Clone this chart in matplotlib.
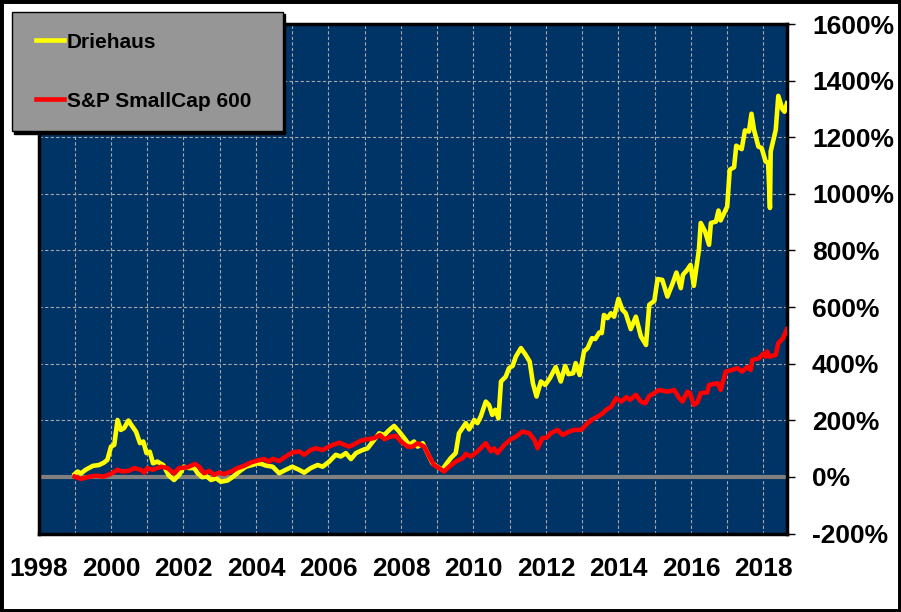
import matplotlib
matplotlib.use('Agg')
import matplotlib.pyplot as plt
from matplotlib.patches import Rectangle
from matplotlib.lines import Line2D
from matplotlib.legend_handler import HandlerLine2D

plt.rcParams['font.family'] = ['Liberation Sans', 'DejaVu Sans']
plt.rcParams['font.weight'] = 'bold'

# ---- data (cumulative return, %) ----
drie_dates = [1999.0, 1999.08, 1999.17, 1999.3, 1999.5, 1999.67, 1999.8, 1999.9, 2000.0, 2000.09,
              2000.18, 2000.27, 2000.36, 2000.48, 2000.59, 2000.69, 2000.8, 2000.89, 2000.98, 2001.07,
              2001.16, 2001.28, 2001.44, 2001.6, 2001.74, 2001.88, 2002.01, 2002.16, 2002.3, 2002.39,
              2002.52, 2002.64, 2002.76, 2002.9, 2003.03, 2003.21, 2003.35, 2003.54, 2003.72, 2003.9,
              2004.04, 2004.17, 2004.27, 2004.46, 2004.64, 2004.82, 2005.0, 2005.19, 2005.33, 2005.51,
              2005.7, 2005.84, 2006.02, 2006.2, 2006.34, 2006.48, 2006.62, 2006.76, 2006.94, 2007.08,
              2007.26, 2007.4, 2007.54, 2007.68, 2007.81, 2007.95, 2008.09, 2008.23, 2008.36, 2008.46,
              2008.6, 2008.73, 2008.87, 2009.0, 2009.14, 2009.23, 2009.37, 2009.51, 2009.6, 2009.79,
              2009.88, 2010.02, 2010.11, 2010.2, 2010.34, 2010.43, 2010.52, 2010.6, 2010.69, 2010.76,
              2010.89, 2010.98, 2011.08, 2011.17, 2011.31, 2011.44, 2011.55, 2011.64, 2011.74, 2011.86,
              2011.98, 2012.11, 2012.27, 2012.41, 2012.53, 2012.62, 2012.75, 2012.82, 2012.93, 2013.05,
              2013.15, 2013.27, 2013.36, 2013.47, 2013.54, 2013.6, 2013.7, 2013.79, 2013.88, 2014.0,
              2014.11, 2014.2, 2014.34, 2014.48, 2014.62, 2014.76, 2014.85, 2014.99, 2015.08, 2015.21,
              2015.35, 2015.49, 2015.6, 2015.72, 2015.78, 2015.9, 2015.99, 2016.08, 2016.22, 2016.27,
              2016.39, 2016.5, 2016.55, 2016.69, 2016.76, 2016.82, 2017.0, 2017.07, 2017.19, 2017.25,
              2017.4, 2017.49, 2017.6, 2017.67, 2017.74, 2017.86, 2017.95, 2018.06, 2018.13, 2018.18,
              2018.2, 2018.34, 2018.41, 2018.52, 2018.58, 2018.65]
drie_vals = [10, 19, 12, 25, 39, 42, 50, 60, 107, 113,
             201, 166, 172, 199, 178, 160, 119, 125, 84, 89,
             48, 54, 42, 4, -11, 7, 36, 31, 31, 13,
             -1, 2, -11, -5, -17, -13, -1, 19, 36, 42,
             48, 45, 40, 36, 13, 25, 36, 25, 15, 31,
             42, 36, 54, 78, 72, 84, 63, 84, 95, 101,
             131, 154, 148, 166, 180, 160, 137, 113, 125, 107,
             119, 84, 48, 36, 25, 42, 66, 84, 154, 190,
             168, 201, 190, 213, 266, 254, 219, 237, 207, 337,
             354, 384, 392, 425, 455, 431, 408, 331, 284, 337,
             325, 349, 388, 337, 392, 363, 366, 402, 360, 443,
             455, 490, 487, 510, 508, 572, 561, 578, 566, 629,
             590, 578, 522, 566, 496, 466, 608, 622, 699, 696,
             637, 682, 722, 667, 714, 732, 749, 675, 802, 897,
             867, 820, 897, 902, 941, 906, 955, 1085, 1094, 1170,
             1158, 1224, 1220, 1283, 1226, 1167, 1162, 1114, 1109, 950,
             1150, 1226, 1346, 1300, 1290, 1320]

sp_dates = [1999.0, 1999.17, 1999.35, 1999.58, 1999.8, 2000.0, 2000.18, 2000.32, 2000.5, 2000.64,
            2000.82, 2000.92, 2001.0, 2001.15, 2001.38, 2001.56, 2001.74, 2001.88, 2002.11, 2002.32,
            2002.43, 2002.57, 2002.71, 2002.85, 2002.98, 2003.12, 2003.31, 2003.49, 2003.67, 2003.86,
            2004.04, 2004.23, 2004.36, 2004.46, 2004.64, 2004.82, 2005.0, 2005.19, 2005.33, 2005.51,
            2005.65, 2005.84, 2006.06, 2006.3, 2006.44, 2006.57, 2006.71, 2006.89, 2007.08, 2007.26,
            2007.42, 2007.54, 2007.72, 2007.86, 2008.0, 2008.18, 2008.32, 2008.46, 2008.64, 2008.78,
            2008.91, 2009.05, 2009.19, 2009.33, 2009.51, 2009.7, 2009.79, 2009.93, 2010.11, 2010.34,
            2010.48, 2010.57, 2010.66, 2010.85, 2011.03, 2011.17, 2011.35, 2011.54, 2011.68, 2011.77,
            2011.9, 2012.04, 2012.13, 2012.32, 2012.46, 2012.64, 2012.78, 2012.97, 2013.15, 2013.29,
            2013.43, 2013.57, 2013.66, 2013.8, 2013.94, 2014.08, 2014.22, 2014.32, 2014.48, 2014.62,
            2014.74, 2014.85, 2014.99, 2015.11, 2015.35, 2015.54, 2015.68, 2015.77, 2015.9, 2015.97,
            2016.08, 2016.18, 2016.27, 2016.45, 2016.5, 2016.73, 2016.82, 2016.96, 2017.14, 2017.28,
            2017.41, 2017.55, 2017.65, 2017.69, 2017.88, 2017.99, 2018.06, 2018.1, 2018.17, 2018.34,
            2018.41, 2018.54, 2018.65]
sp_vals = [1, -7, -1, 4, 1, 11, 25, 19, 22, 31,
           25, 15, 31, 25, 36, 31, 13, 31, 34, 46,
           36, 13, 21, 7, 15, 10, 19, 31, 39, 51,
           58, 63, 54, 64, 56, 72, 86, 90, 78, 95,
           101, 95, 110, 121, 113, 107, 115, 128, 133, 137,
           148, 133, 142, 145, 125, 107, 107, 119, 107, 72,
           42, 31, 19, 36, 54, 66, 81, 72, 90, 119,
           90, 101, 84, 113, 133, 142, 160, 154, 131, 101,
           137, 140, 154, 166, 148, 160, 166, 166, 190, 204,
           213, 225, 237, 248, 278, 266, 282, 272, 290, 266,
           260, 286, 296, 307, 301, 307, 278, 266, 301, 296,
           254, 263, 296, 298, 325, 331, 307, 372, 378, 384,
           372, 388, 378, 413, 419, 435, 425, 443, 425, 431,
           472, 490, 522]

series_names = ['Driehaus', 'S&P SmallCap 600']
year_ticks = [1998, 2000, 2002, 2004, 2006, 2008, 2010, 2012, 2014, 2016, 2018]
year_labels = [str(y) for y in year_ticks]
year_minor = list(range(1999, 2019, 2))
pct_ticks = [-200, 0, 200, 400, 600, 800, 1000, 1200, 1400, 1600]
pct_labels = [f'{v}%' for v in pct_ticks]

# ---- figure ----
W, H = 901, 612
fig = plt.figure(figsize=(W / 100, H / 100), dpi=100)
fig.patch.set_facecolor('white')
ax = fig.add_axes([38.5 / W, 1 - 533.5 / H, (787 - 38.5) / W, (533.5 - 24) / H])
ax.set_facecolor('#003366')

ax.axhline(0, color='#808080', lw=3, zorder=2)
ax.plot(drie_dates, drie_vals, color='#FFFF00', lw=3.3, zorder=3, label=series_names[0])
ax.plot(sp_dates, sp_vals, color='#FF0000', lw=3.3, zorder=4, label=series_names[1])

ax.set_xlim(1998, 2018.65)
ax.set_ylim(-200, 1600)
ax.set_xticks(year_ticks, labels=year_labels)
ax.set_xticks(year_minor, minor=True)
ax.set_yticks(pct_ticks, labels=pct_labels)
ax.yaxis.tick_right()

ax.set_axisbelow(True)
ax.grid(which='both', color='#a8a8a8', linestyle=(0, (3, 2)), linewidth=0.8)

ax.tick_params(axis='x', which='both', length=0, pad=17, labelsize=19)
ax.tick_params(axis='y', which='major', length=6, width=1, pad=12, labelsize=19,
               right=True, left=False, direction='out')

for s in ax.spines.values():
    s.set_linewidth(2.5)
    s.set_color('black')

leg = ax.legend(loc='upper left', bbox_to_anchor=(11.7 / W, 1 - 11.7 / H, 271 / W, 0),
                bbox_transform=fig.transFigure, mode='expand', borderaxespad=0,
                fancybox=False, framealpha=1, facecolor='#969696', edgecolor='black',
                prop={'family': 'Liberation Sans', 'weight': 'bold', 'size': 15},
                handler_map={Line2D: HandlerLine2D(numpoints=2, marker_pad=0.15)},
                handlelength=1.64, handletextpad=0.0,
                borderpad=1.0, labelspacing=1.92,
                shadow={'color': 'black', 'alpha': 1})
leg.get_frame().set_linewidth(1.0)
leg.set_zorder(10)

fig.patches.append(Rectangle((0, 0), 1, 1, transform=fig.transFigure, fill=False,
                             edgecolor='black', linewidth=5, clip_on=False))

fig.savefig('out.png', dpi=100)
